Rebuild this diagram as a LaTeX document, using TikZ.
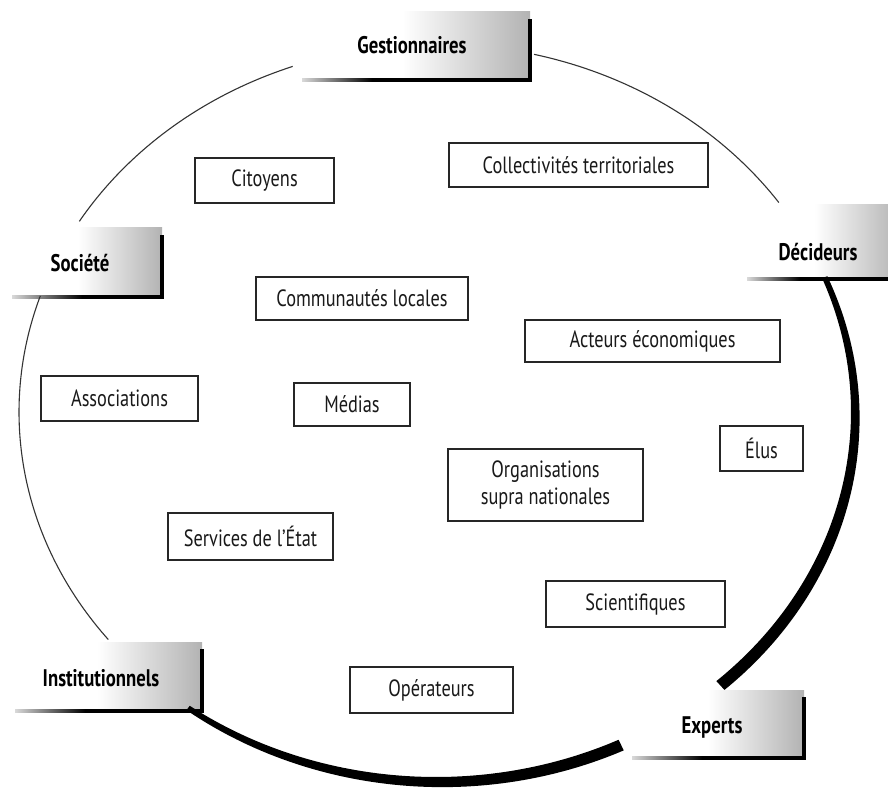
\documentclass[tikz,border=0pt]{standalone}
\usepackage{fontspec}
\setmainfont{PT Sans}[FakeStretch=0.78]
\usetikzlibrary{calc}
\pgfdeclarehorizontalshading{lblshade}{100bp}{color(0bp)=(white); color(25bp)=(white); color(47bp)=(white); color(75bp)=(black!30); color(100bp)=(black!30)}
\tikzset{
  item/.style={draw=black!85, line width=1.4pt, fill=white, font=\fontsize{23.5}{27}\selectfont, text=black!90, inner sep=0pt, align=center},
  lbl/.style={font=\bfseries\fontsize{24}{26}\selectfont, text=black, inner sep=0pt},
  arcthin/.style={line width=1.1pt, draw=black!80},
}
% x0, top, x1, bottom
\newcommand\lblbox[4]{%
  \shade[shading=lblshade] (#1,#2) rectangle (#3,#4);
  \shade[left color=black!15, right color=black] (#1,#4-1.8) rectangle (#1+70,#4+1.8);
  \fill[black] (#1+70,#4-1.8) rectangle (#3+2,#4+1.8);
  \fill[black] (#3-2,#2+7) rectangle (#3+2,#4+1.8);
}
\begin{document}
\begin{tikzpicture}[x=1pt,y=-1pt]
\useasboundingbox (0,0) rectangle (888,791);
% label backgrounds
\lblbox{302}{12}{530}{80}
\lblbox{12}{228}{162}{297}
\lblbox{15}{642}{202}{711}
\lblbox{632}{690}{804}{758}
\shade[shading=lblshade] (747,205) rectangle (900,279);
\fill[black] (747,277.2) rectangle (900,280.8);
\shade[left color=black!15, right color=black] (747,277.2) rectangle (800,280.8);
% thin arcs
\draw[arcthin] plot[domain=-110.1:-148.8, samples=80] ({436+417*cos(\x)},{412+368*sin(\x)});
\draw[arcthin] plot[domain=-161.6:-218.2, samples=80] ({436+417*cos(\x)},{412+368*sin(\x)});
\draw[arcthin] plot[domain=-76.4:-34.7, samples=80] ({436+417*cos(\x)},{412+368*sin(\x)});
% thick arcs (thickness varies along the arc)
\fill[black] plot[domain=-21.5:47.5, samples=100] ({436+415*cos(\x)},{412+365*sin(\x)})
  -- plot[domain=47.5:-21.5, samples=100] ({436+(415+3+9*cos(\x-52))*cos(\x)},{412+(365+3+9*cos(\x-52))*sin(\x)}) -- cycle;
\fill[black] plot[domain=63.9:126.4, samples=100] ({436+415*cos(\x)},{412+365*sin(\x)})
  -- plot[domain=126.4:63.9, samples=100] ({436+(415+3+9*cos(\x-52))*cos(\x)},{412+(365+3+9*cos(\x-52))*sin(\x)}) -- cycle;
% labels
\node[lbl] (gest) at (412,45) {Gestionnaires};
\node[lbl] (soc) at (80,263) {Société};
\node[lbl] (dec) at (818,252) {Décideurs};
\node[lbl] (inst) at (101,678) {Institutionnels};
\node[lbl] (exp) at (712,727) {Experts};
% items
\node[item, minimum width=139pt, minimum height=45pt] (cit) at (264.5,180.5) {Citoyens};
\node[item, minimum width=259pt, minimum height=44pt] (coll) at (578.5,165) {Collectivités territoriales};
\node[item, minimum width=212pt, minimum height=43pt] (comm) at (362,298.5) {Communautés locales};
\node[item, minimum width=255pt, minimum height=42pt] (act) at (652.5,341) {Acteurs économiques};
\node[item, minimum width=157pt, minimum height=45pt] (asso) at (119.5,398.5) {Associations};
\node[item, minimum width=116pt, minimum height=43pt] (med) at (352,404.5) {Médias};
\node[item, minimum width=83pt, minimum height=45pt] (elus) at (761.5,448.5) {Élus};
\node[item, minimum width=195pt, minimum height=72pt] (org) at (545.5,485) {Organisations\\supra nationales};
\node[item, minimum width=165pt, minimum height=47pt] (serv) at (250.5,536.5) {Services de l'État};
\node[item, minimum width=179pt, minimum height=46pt] (sci) at (635.5,604) {Scientifiques};
\node[item, minimum width=163pt, minimum height=46pt] (op) at (431.5,690) {Opérateurs};
\end{tikzpicture}
\end{document}
